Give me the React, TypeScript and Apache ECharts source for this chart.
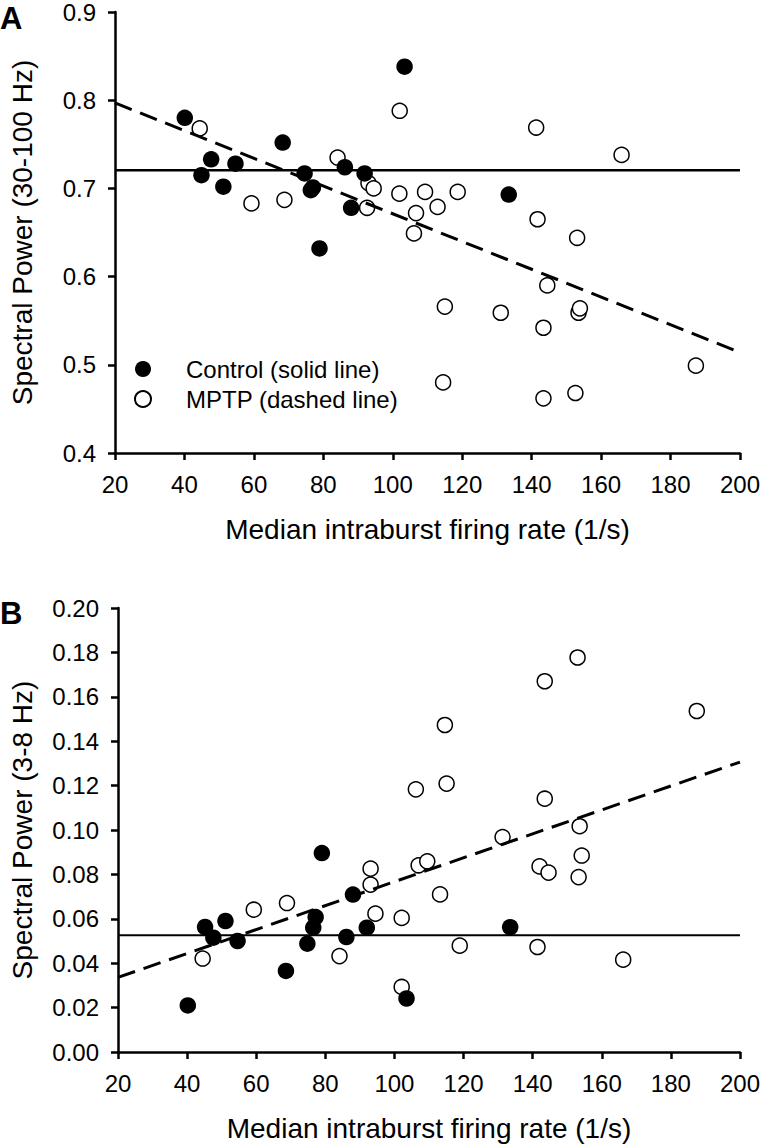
import React, { useEffect, useRef } from "react";
import * as echarts from "echarts";

// ---------- Data ----------
// Panel A: Spectral power 30-100 Hz vs median intraburst firing rate
const ctrlAx = [40.1, 44.9, 47.7, 51.2, 54.7, 68.3, 74.6, 76.4, 77.0, 78.9, 86.2, 88.0, 91.9, 103.4, 133.4];
const ctrlAy = [0.780, 0.715, 0.733, 0.702, 0.728, 0.752, 0.717, 0.698, 0.701, 0.632, 0.724, 0.678, 0.717, 0.838, 0.693];
const mptpAx = [44.4, 59.3, 68.8, 84.1, 92.6, 93.0, 94.5, 101.9, 102.0, 106.1, 106.7, 109.3, 112.9, 114.5, 115.0, 118.7, 131.1, 141.3, 141.7, 143.4, 143.4, 144.5, 152.6, 153.1, 153.5, 153.9, 165.9, 187.3];
const mptpAy = [0.768, 0.683, 0.687, 0.735, 0.678, 0.706, 0.700, 0.694, 0.788, 0.649, 0.672, 0.696, 0.679, 0.480, 0.566, 0.696, 0.559, 0.769, 0.665, 0.542, 0.462, 0.590, 0.468, 0.644, 0.559, 0.564, 0.738, 0.499];
const ctrlLineA = [[20, 0.7205], [200, 0.7205]];
const mptpLineA = [[20, 0.797], [200, 0.514]];

// Panel B: Spectral power 3-8 Hz vs median intraburst firing rate
const ctrlBx = [40.2, 45.2, 47.6, 51.1, 54.6, 68.6, 74.8, 76.5, 77.2, 79.0, 86.1, 88.0, 92.0, 103.5, 133.5];
const ctrlBy = [0.0210, 0.0563, 0.0515, 0.0590, 0.0500, 0.0365, 0.0488, 0.0560, 0.0608, 0.0896, 0.0518, 0.0709, 0.0560, 0.0241, 0.0562];
const mptpBx = [44.5, 59.3, 68.9, 84.1, 93.1, 93.1, 94.5, 102.1, 102.1, 106.2, 107.0, 109.5, 113.2, 114.6, 115.1, 118.9, 131.3, 141.4, 142.0, 143.5, 143.5, 144.6, 153.0, 153.3, 153.6, 154.2, 166.2, 187.5];
const mptpBy = [0.0421, 0.0641, 0.0671, 0.0432, 0.0826, 0.0754, 0.0623, 0.0604, 0.0293, 0.1183, 0.0841, 0.0859, 0.0710, 0.1473, 0.1209, 0.0479, 0.0968, 0.0473, 0.0836, 0.1670, 0.1141, 0.0808, 0.1777, 0.0788, 0.1017, 0.0885, 0.0416, 0.1536];
const ctrlLineB = [[20, 0.0526], [200, 0.0526]];
const mptpLineB = [[20, 0.0336], [200, 0.1306]];

const xRange = [20, 200, 20];
const yRangeA = [0.4, 0.9, 0.1];
const yRangeB = [0, 0.2, 0.02];

const ctrlName = "Control (solid line)";
const mptpName = "MPTP (dashed line)";
const xTitle = "Median intraburst firing rate (1/s)";
const yTitleA = "Spectral Power (30-100 Hz)";
const yTitleB = "Spectral Power (3-8 Hz)";

const FONT = "'Liberation Sans', Arial, Helvetica, sans-serif";

const zip = (xs: number[], ys: number[]) => xs.map((x, i) => [x, ys[i]]);

export default function App() {
  const ref = useRef<HTMLDivElement>(null);

  useEffect(() => {
    document.body.style.margin = "0";
    if (!ref.current) return;
    const chart = echarts.init(ref.current, undefined, { renderer: "svg" });

    const axisCommon = {
      axisLine: { show: true, onZero: false, lineStyle: { color: "#000", width: 2.5 } },
      axisTick: { show: true, inside: false, length: 7, lineStyle: { color: "#000", width: 2.5 } },
      splitLine: { show: false },
      axisLabel: { color: "#000", fontSize: 24, fontFamily: FONT, margin: 19 },
      nameLocation: "middle" as const,
      nameTextStyle: { color: "#000", fontSize: 28, fontFamily: FONT },
    };

    const mkX = (gridIndex: number) => ({
      ...axisCommon,
      type: "value" as const,
      gridIndex,
      min: xRange[0],
      max: xRange[1],
      interval: xRange[2],
      name: xTitle,
      nameGap: 62,
    });

    const mkY = (gridIndex: number, r: number[], digits: number, name: string, gap: number) => ({
      ...axisCommon,
      type: "value" as const,
      gridIndex,
      min: r[0],
      max: r[1],
      interval: r[2],
      name,
      nameGap: gap,
      axisLabel: { ...axisCommon.axisLabel, formatter: (v: number) => v.toFixed(digits) },
    });

    const openStyle = { color: "#fff", borderColor: "#000", borderWidth: 1.5, opacity: 1 };
    const filledStyle = { color: "#000", borderColor: "#000", borderWidth: 0, opacity: 1 };

    const panelSeries = (idx: number, cx: number[], cy: number[], mx: number[], my: number[], cl: number[][], ml: number[][], solidW: number) => [
      {
        name: mptpName,
        type: "scatter",
        xAxisIndex: idx,
        yAxisIndex: idx,
        symbol: "circle",
        symbolSize: 15,
        itemStyle: openStyle,
        data: zip(mx, my),
        z: 2,
      },
      {
        name: ctrlName,
        type: "scatter",
        xAxisIndex: idx,
        yAxisIndex: idx,
        symbol: "circle",
        symbolSize: 16.5,
        itemStyle: filledStyle,
        data: zip(cx, cy),
        z: 3,
      },
      {
        type: "line",
        xAxisIndex: idx,
        yAxisIndex: idx,
        symbol: "none",
        silent: true,
        lineStyle: { color: "#000", width: solidW, type: "solid" },
        data: cl,
        z: 4,
      },
      {
        type: "line",
        xAxisIndex: idx,
        yAxisIndex: idx,
        symbol: "none",
        silent: true,
        lineStyle: { color: "#000", width: 3, type: [18, 9] },
        data: ml,
        z: 4,
      },
    ];

    chart.setOption({
      animation: false,
      backgroundColor: "#fff",
      textStyle: { fontFamily: FONT },
      grid: [
        { left: 105, top: 10, width: 635, height: 443, containLabel: false },
        { left: 108, top: 608, width: 635, height: 444, containLabel: false },
      ],
      xAxis: [mkX(0), mkX(1)],
      yAxis: [mkY(0, yRangeA, 1, yTitleA, 79), mkY(1, yRangeB, 2, yTitleB, 82)],
      legend: {
        data: [ctrlName, mptpName],
        orient: "vertical",
        left: 129,
        top: 352,
        itemWidth: 16,
        itemHeight: 16,
        itemGap: 6,
        selectedMode: false,
        textStyle: { color: "#000", fontSize: 24, fontFamily: FONT, padding: [0, 0, 0, 30] },
      },
      graphic: [
        { type: "text", left: 0, top: 3, style: { text: "A", fill: "#000", font: `bold 31px ${FONT}` } },
        { type: "text", left: 0, top: 598, style: { text: "B", fill: "#000", font: `bold 31px ${FONT}` } },
      ],
      series: [
        ...panelSeries(0, ctrlAx, ctrlAy, mptpAx, mptpAy, ctrlLineA, mptpLineA, 2.5),
        ...panelSeries(1, ctrlBx, ctrlBy, mptpBx, mptpBy, ctrlLineB, mptpLineB, 2),
      ],
    });

    return () => chart.dispose();
  }, []);

  return <div ref={ref} style={{ width: 763, height: 1145 }} />;
}
